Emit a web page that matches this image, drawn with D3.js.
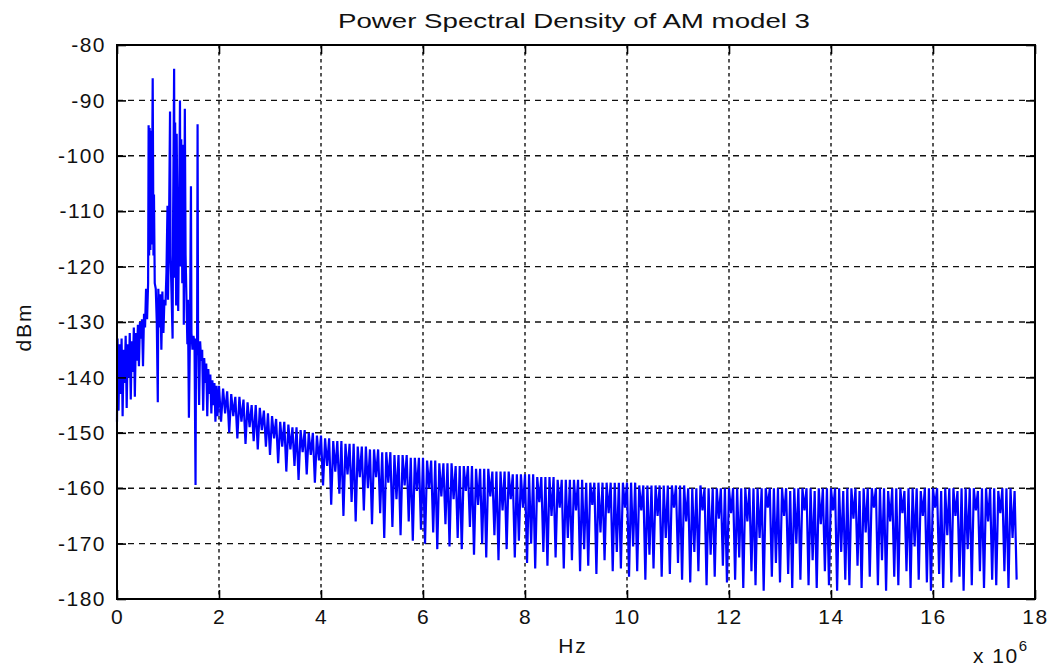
<!DOCTYPE html>
<html>
<head>
<meta charset="utf-8">
<script src="https://cdn.jsdelivr.net/npm/d3@7"></script>
<style>
  body { margin: 0; background: #fff; }
  text { font-family: "Liberation Sans", Arial, sans-serif; fill: #111; }
</style>
</head>
<body>
<svg id="chart" width="1053" height="668"></svg>
<script>
var svg = d3.select('#chart');

// axis ticks
var xTicks = [0, 2, 4, 6, 8, 10, 12, 14, 16, 18];
var yTicks = [-180, -170, -160, -150, -140, -130, -120, -110, -100, -90, -80];

// 0 - 2 MHz, read point by point (MHz, dBm)
var lowBandMHz = [0.00, 0.01, 0.03, 0.05, 0.07, 0.09, 0.11, 0.13, 0.15, 0.17, 0.19, 0.21, 0.23, 0.25, 0.27, 0.29,
  0.31, 0.33, 0.35, 0.37, 0.39, 0.41, 0.43, 0.45, 0.47, 0.49, 0.51, 0.53, 0.55, 0.57, 0.59, 0.61,
  0.62, 0.63, 0.64, 0.655, 0.665, 0.68, 0.70, 0.715, 0.725, 0.74, 0.76, 0.78, 0.80, 0.81, 0.83, 0.85,
  0.87, 0.89, 0.91, 0.93, 0.95, 0.97, 0.99, 1.00, 1.02, 1.04, 1.05, 1.07, 1.09, 1.10, 1.12, 1.13,
  1.14, 1.16, 1.17, 1.19, 1.20, 1.22, 1.235, 1.245, 1.26, 1.28, 1.30, 1.31, 1.33, 1.345, 1.36, 1.38,
  1.39, 1.41, 1.43, 1.45, 1.46, 1.48, 1.50, 1.52, 1.54, 1.55, 1.57, 1.58, 1.59, 1.61, 1.63, 1.65,
  1.67, 1.69, 1.71, 1.73, 1.75, 1.77, 1.79, 1.81, 1.83, 1.85, 1.87, 1.89, 1.91, 1.93, 1.95, 1.97];
var lowBandDb = [-148, -133, -146, -134, -143, -133, -147, -135, -141, -132.5, -145.5, -134, -140, -132, -144, -133.5,
  -139, -131, -143.5, -132, -137, -130.5, -138, -130, -133, -129.5, -138, -128.5, -131, -124, -129.5, -123,
  -94.5, -118, -95, -117, -95.5, -116, -86, -118, -107, -123, -124, -130, -144.5, -124, -131, -125,
  -135, -124.5, -132, -126, -127, -121, -109, -126, -113, -92, -118, -125, -133, -112, -84.3, -122,
  -94, -127, -96, -119, -128, -108, -90, -120, -97, -123, -98, -130.5, -91.5, -118, -125, -134,
  -126, -147.3, -133, -105.5, -132, -135, -132.5, -134, -159.4, -133, -136, -94.3, -134, -145, -133.5, -137,
  -135, -146, -136.5, -141, -137.5, -147, -138.5, -143, -139.5, -146.5, -140.5, -145, -141, -148, -141.5, -147];

// 2.00 - 17.64 MHz, one value every 0.04 MHz (dBm), one row per MHz
var tailStartMHz = 2.0, tailStepMHz = 0.04;
var tailDb = [
  -141.5,-148, -142,-146.5, -142.5,-150, -143,-147, -143.5,-151, -143.5,-148, -144,-152, -144.5,-149, -145,-151.5, -145,-153, -145.5,-149.5, -146,-152.5, -146.5,
  -154, -147,-151, -147.5,-155.5, -148,-152.5, -148,-157, -148.5,-153, -149,-156, -149,-158.5, -149.5,-153.5, -149.5,-157.5, -150,-154, -150,-159, -150.5,-155,
  -150.5,-159.5, -151,-156, -151,-163, -151.5,-157, -151.5,-161, -151.5,-165, -152,-157.5, -152,-162.5, -152,-166, -152.5,-158, -152.5,-164, -152.5,-160, -153,
  -166.5, -153,-158, -153,-164.5, -153.5,-169, -153.5,-159, -153.5,-167, -154,-162, -154,-168.5, -154,-159.5, -154,-166, -154.5,-169.5, -154.5,-160.5, -154.5,-167.5,
  -154.5,-170, -155,-160, -155,-168, -155,-171, -155.5,-161.5, -155.5,-166.5, -155.5,-170.5, -155.5,-162, -156,-169, -156,-171, -156,-160.5, -156,-167, -156,
  -172, -156.5,-163, -156.5,-170, -156.5,-172.5, -156.5,-161.5, -157,-168.5, -157,-173, -157,-164, -157,-171, -157,-162, -157.5,-172.5, -157.5,-169.5, -157.5,-163.5,
  -157.5,-173.5, -157.5,-170, -157.5,-174.5, -158,-162.5, -158,-171.5, -158,-174, -158,-165, -158,-172.5, -158.5,-163.5, -158.5,-174.5, -158.5,-169, -158.5,-173, -158.5,
  -164, -158.5,-175, -158.5,-171, -159,-174, -159,-163, -159,-175.5, -159,-168, -159,-173, -159,-164.5, -159,-175, -159,-171.5, -159,-174.5, -159,-163.5,
  -159,-176, -159,-170.5, -159,-175, -159.5,-164, -159.5,-176.5, -159.5,-172, -159.5,-174.5, -159.5,-165, -159.5,-176, -159.5,-169, -159.5,-175.5, -159.5,-163.5, -159.5,
  -173.5, -159.5,-176.5, -159.5,-166, -160,-177, -160,-171.5, -160,-175, -159.5,-164, -160,-177.5, -160,-172, -160,-176, -160,-165.5, -160,-174, -160,-177,
  -160,-164.5, -160,-176.5, -160,-172.5, -160,-178, -160,-166, -160,-175, -160,-177.5, -160,-169, -160,-178.5, -160,-163.5, -160,-176, -160,-173.5, -160,
  -177, -160,-165, -160,-175.5, -160.5,-178, -160,-170, -160,-176.5, -160,-164, -160,-177.5, -160,-173, -160.5,-178, -160,-166.5, -160,-175, -160,-177.5,
  -160,-164, -160,-178.5, -160,-171.5, -160.5,-176.5, -160,-177.5, -160,-165.5, -160,-174, -160.5,-178, -160,-168, -160,-176, -160,-163.5, -160,-177.5, -160,
  -173, -160,-178.5, -160.5,-166, -160,-176, -160,-177.5, -160,-164.5, -160.5,-175, -160,-178, -160,-170.5, -160,-176.5, -160.5,-165, -160,-177, -160,-178.5,
  -160,-163.5, -160,-175.5, -160.5,-178, -160,-168.5, -160,-177, -160,-165, -160.5,-176, -160,-178.5, -160,-171, -160,-177.5, -160,-164, -160.5,-175, -160,
  -178, -160,-166, -160,-176.5, -160,-177.5, -160.5,-164.5, -160,-175, -160,-178, -160,-169, -160.5,-176.5
];

var psd = lowBandMHz.map((f, i) => [f, lowBandDb[i]])
  .concat(tailDb.map((v, i) => [tailStartMHz + i * tailStepMHz, v]));

var plotL = 117, plotR = 1035, plotT = 45, plotB = 599;
var x = d3.scaleLinear().domain([0, 18]).range([plotL, plotR]);
var y = d3.scaleLinear().domain([-180, -80]).range([plotB, plotT]);

// grid
var grid = svg.append('g').attr('stroke', '#111').attr('stroke-width', 1.4);
grid.selectAll('.gx').data(xTicks.slice(1, -1)).enter().append('line')
  .attr('x1', d => x(d)).attr('x2', d => x(d))
  .attr('y1', plotT).attr('y2', plotB)
  .attr('stroke-dasharray', '3.5,3.5');
grid.selectAll('.gy').data(yTicks.slice(1, -1)).enter().append('line')
  .attr('x1', plotL).attr('x2', plotR)
  .attr('y1', d => y(d)).attr('y2', d => y(d))
  .attr('stroke-dasharray', '6,5');

// spectrum
var line = d3.line().x(d => x(d[0])).y(d => y(d[1]));
svg.append('path').datum(psd)
  .attr('d', line)
  .attr('fill', 'none')
  .attr('stroke', '#0000ff')
  .attr('stroke-width', 2.2)
  .attr('stroke-linejoin', 'miter');

// axes with inward ticks on all four sides
var tick = 9;
var plainNum = d => String(d);
svg.append('g').attr('transform', 'translate(0,' + plotB + ')')
  .call(d3.axisBottom(x).tickValues(xTicks).tickFormat(plainNum)
    .tickSizeInner(-tick).tickSizeOuter(0).tickPadding(10));
svg.append('g').attr('transform', 'translate(0,' + plotT + ')')
  .call(d3.axisTop(x).tickValues(xTicks).tickFormat('').tickSizeInner(-tick).tickSizeOuter(0));
svg.append('g').attr('transform', 'translate(' + plotL + ',0)')
  .call(d3.axisLeft(y).tickValues(yTicks).tickFormat(plainNum)
    .tickSizeInner(-tick).tickSizeOuter(0).tickPadding(11));
svg.append('g').attr('transform', 'translate(' + plotR + ',0)')
  .call(d3.axisRight(y).tickValues(yTicks).tickFormat('').tickSizeInner(-tick).tickSizeOuter(0));

svg.selectAll('.domain').remove();
svg.selectAll('.tick line').attr('stroke', '#000').attr('stroke-width', 1.6);
svg.selectAll('.tick text')
  .style('font-size', '21px')
  .style('letter-spacing', '1.5px')
  .attr('fill', '#111');

svg.append('rect')
  .attr('x', plotL).attr('y', plotT)
  .attr('width', plotR - plotL).attr('height', plotB - plotT)
  .attr('fill', 'none').attr('stroke', '#000').attr('stroke-width', 2);

// texts
svg.append('text')
  .attr('x', 574).attr('y', 28)
  .attr('text-anchor', 'middle')
  .attr('textLength', 472).attr('lengthAdjust', 'spacingAndGlyphs')
  .style('font-size', '21px')
  .text('Power Spectral Density of AM model 3');

svg.append('text')
  .attr('x', 573).attr('y', 653)
  .attr('text-anchor', 'middle')
  .style('font-size', '21px').style('letter-spacing', '2px')
  .text('Hz');

svg.append('text')
  .attr('transform', 'translate(31,327) rotate(-90)')
  .attr('text-anchor', 'middle')
  .style('font-size', '21px').style('letter-spacing', '2px')
  .text('dBm');

var expo = svg.append('text').attr('x', 973).attr('y', 663)
  .style('font-size', '21px').style('letter-spacing', '1.5px');
expo.append('tspan').text('x 10');
expo.append('tspan').attr('dy', -12).style('font-size', '15px').text('6');
</script>
</body>
</html>
